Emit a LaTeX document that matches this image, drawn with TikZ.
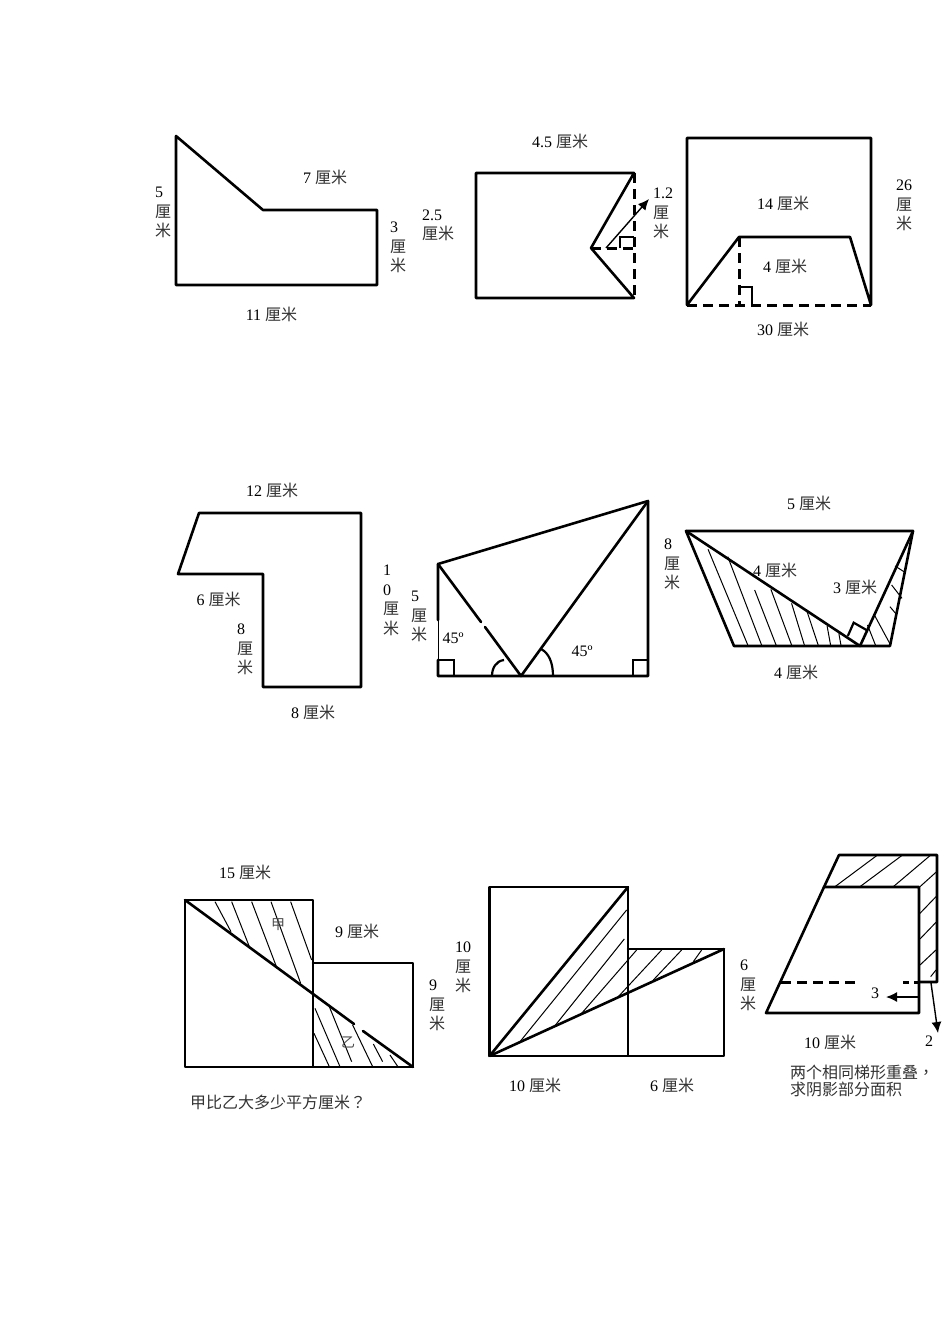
\documentclass[tikz,border=0pt]{standalone}
\usepackage{fontspec}
\setmainfont{Liberation Serif}
\newfontfamily\cjkraw{Noto Sans CJK SC}
\newfontfamily\cjktc{Noto Sans CJK TC}
\usetikzlibrary{arrows.meta}
\newcommand{\cjk}{\cjkraw\color{black!80}}
\newcommand{\lm}{{\cjk 厘米}}
\newcommand{\li}{{\cjk 厘}}
\newcommand{\mi}{{\cjk 米}}
\tikzset{
  outline/.style={line width=2.6pt,line join=round,line cap=round},
  dashline/.style={line width=3pt,dash pattern=on 10pt off 6pt},
  hatch/.style={line width=1pt},
  thinarrow/.style={line width=1.4pt,-{Latex[length=11pt,width=10pt]}},
  lab/.style={inner sep=0pt,font=\fontsize{16}{19.5}\selectfont},
  vlab/.style={lab,anchor=west,align=left},
  small/.style={inner sep=0pt,font=\fontsize{14}{14}\selectfont\cjkraw,text=black!70}
}
\begin{document}
\begin{tikzpicture}[x=1pt,y=-1pt]
\useasboundingbox[fill=white] (0,0) rectangle (950,1344);

% Figure 1
\draw[outline] (176,136)--(263,210)--(377,210)--(377,285)--(176,285)--cycle;
\node[vlab] (a1) at (155,212.5) {5\\\li\\\mi};
\node[lab] (a2) at (325,177) {7 \lm};
\node[vlab] (a3) at (390,247.5) {3\\\li\\\mi};
\node[lab] (a4) at (271.5,314) {11 \lm};

% Figure 2
\draw[outline] (634,173)--(476,173)--(476,298)--(634,298)--(591,248)--cycle;
\draw[dashline] (634,173)--(634,298);
\draw[dashline] (591,248)--(634,248);
\draw[line width=2.2pt] (620,248)--(620,237)--(634,237);
\coordinate (b1) at (606,248);
\coordinate (b2) at (649,199);
\draw[thinarrow] (b1)--(b2);
\node[vlab] (b3) at (422,225.5) {2.5\\\lm};
\node[lab] (b4) at (560,141) {4.5 \lm};
\node[vlab] (b5) at (653,213.5) {1.2\\\li\\\mi};

% Figure 3
\draw[outline] (687,305)--(687,138)--(871,138)--(871,305)--(850,237)--(739,237)--cycle;
\draw[dashline] (687,305)--(871,305);
\draw[dashline] (739,237)--(739,305);
\draw[line width=2.2pt] (739,287)--(752,287)--(752,305);
\node[lab] (c1) at (783,203) {14 \lm};
\node[lab] (c2) at (785,266) {4 \lm};
\node[lab] (c3) at (783,329) {30 \lm};
\node[vlab] (c4) at (896,205.5) {26\\\li\\\mi};

% Figure 4
\draw[outline] (199,513)--(361,513)--(361,687)--(263,687)--(263,574)--(178,574)--cycle;
\node[lab] (d1) at (272,490) {12 \lm};
\node[lab] (d2) at (218.5,599) {6 \lm};
\node[vlab] (d3) at (237,649.5) {8\\\li\\\mi};
\node[lab] (d4) at (313,712) {8 \lm};
\node[vlab] (d5) at (383,600.5) {1\\0\\\li\\\mi};

% Figure 5
\draw[outline] (438,620)--(438,564)--(648,501)--(648,676)--(438,676)--(438,660);
\draw[line width=1pt] (438,620)--(438,660);
\draw[outline] (438,564)--(481,622);
\draw[outline] (485,627)--(521,676)--(648,501);
\draw[line width=2.2pt] (438,660)--(454,660)--(454,676);
\draw[line width=2.2pt] (633,676)--(633,660)--(648,660);
\draw[line width=2.2pt] (492,676) .. controls (492,668) and (496,661) .. (504,660);
\draw[line width=2.2pt] (541,649) .. controls (549,653) and (553,663) .. (553,676);
\node[lab] (e1) at (453,638) {45º};
\node[lab] (e2) at (582,651) {45º};
\node[vlab] (e3) at (411,616.5) {5\\\li\\\mi};
\node[vlab] (e4) at (664,564.5) {8\\\li\\\mi};

% Figure 6
\draw[outline] (686,531)--(913,531)--(890,646)--(734,646)--cycle;
\draw[outline] (686,531)--(860,646)--(913,531);
\begin{scope}[shift={(400,490)},xscale=.345,yscale=.3333]
  \draw[line width=2.2pt] (1298,438)--(1315,398)--(1352,420);
  \foreach \a/\b/\c/\d in {893/178/1008/465,950/200/1048/465,1028/300/1090/465,1075/298/1135/465,1135/340/1172/465,1180/365/1212/465,1238/408/1248/465,1272/430/1278/465,1355/405/1378/465,1375/375/1422/465,1420/350/1438/372,1425/285/1455/325,1435/228/1465/248}
    \draw[hatch] (\a,\b)--(\c,\d);
\end{scope}
\node[lab] (f1) at (809,503) {5 \lm};
\node[lab] (f2) at (775,570) {4 \lm};
\node[lab] (f3) at (855,587) {3 \lm};
\node[lab] (f4) at (796,672) {4 \lm};

% Figure 7
\draw[outline] (185,900) rectangle (313,1067);
\draw[outline] (313,963)--(413,963)--(413,1067)--(313,1067);
\draw[outline] (185,900)--(354,1024);
\draw[outline] (363,1031)--(413,1067);
\begin{scope}[shift={(170,880)},scale=.3333]
  \foreach \a/\b/\c/\d in {135/65/183/155,185/65/240/205,245/65/320/262,303/65/392/310,362/65/425/240,435/385/510/560,432/460/478/560,478/380/545/545,548/435/608/560,610/492/638/545,660/525/685/562}
    \draw[hatch] (\a,\b)--(\c,\d);
\end{scope}
\node[small] (g1) at (278,925) {甲};
\node[small] (g2) at (348,1042) {乙};
\node[lab] (g3) at (245,872) {15 \lm};
\node[lab] (g4) at (357,931) {9 \lm};
\node[vlab] (g5) at (429,1005.5) {9\\\li\\\mi};
\node[lab,anchor=west] (g6) at (190,1102) {\cjk 甲比乙大多少平方厘米{\cjktc ？}};

% Figure 8
\draw[outline] (489.5,887) rectangle (628,1056);
\draw[outline] (628,949)--(724,949)--(724,1056)--(628,1056);
\draw[outline] (489.5,1056)--(628,887);
\draw[outline] (489.5,1056)--(724,949);
\begin{scope}[shift={(480,850)},scale=.3333]
  \foreach \a/\b/\c/\d in {120/575/440/180,225/527/433/267,305/490/470/300,415/440/545/300,520/390/605/300,640/335/665/300}
    \draw[hatch] (\a,\b)--(\c,\d);
\end{scope}
\node[vlab] (h1) at (455,967.5) {10\\\li\\\mi};
\node[vlab] (h2) at (740,985.5) {6\\\li\\\mi};
\node[lab] (h3) at (535,1085) {10 \lm};
\node[lab] (h4) at (672,1085) {6 \lm};

% Figure 9
\draw[outline] (766,1013)--(919,1013)--(919,887)--(824,887)--cycle;
\draw[outline] (824,887)--(839,855)--(937,855)--(937,982)--(919,982);
\draw[line width=3pt,dash pattern=on 10pt off 6pt] (781,982)--(857,982);
\draw[line width=3pt,dash pattern=on 6pt off 5pt] (903,982)--(919,982);
\begin{scope}[shift={(750,845)},scale=.3333]
  \foreach \a/\b/\c/\d in {255/125/380/32,330/125/455/32,430/125/540/32,510/125/560/80,510/205/558/155,510/282/558/232,510/360/558/315,542/395/558/375}
    \draw[hatch] (\a,\b)--(\c,\d);
\end{scope}
\coordinate (i1) at (918,997);
\coordinate (i2) at (886,997);
\coordinate (i3) at (931,983);
\coordinate (i4) at (938,1033);
\draw[thinarrow] (i1)--(i2);
\draw[thinarrow] (i3)--(i4);
\node[lab] (i5) at (875,993) {3};
\node[lab] (i6) at (929,1041) {2};
\node[lab] (i7) at (830,1042) {10 \lm};
\node[lab,anchor=west,align=left,font=\fontsize{16}{17}\selectfont] (i8) at (790,1081) {\cjk 两个相同梯形重叠{\cjktc ，}\\\cjk 求阴影部分面积};
\end{tikzpicture}
\end{document}
